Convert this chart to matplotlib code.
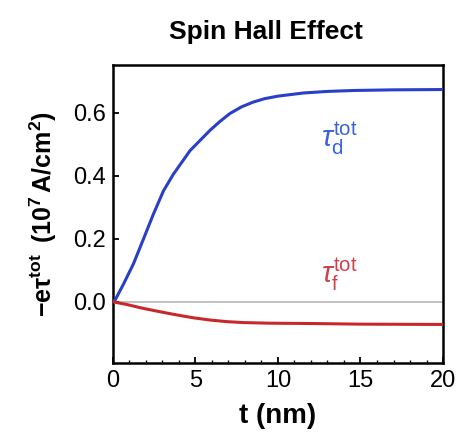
import matplotlib.pyplot as plt
import numpy as np

plt.rcParams["font.family"] = ["Liberation Sans", "DejaVu Sans"]
plt.rcParams["mathtext.fontset"] = "custom"
plt.rcParams["mathtext.rm"] = "Liberation Sans"
plt.rcParams["mathtext.it"] = "Liberation Sans:italic"
plt.rcParams["mathtext.bf"] = "Liberation Sans:bold"

# values
t_d = [0, 0.14, 0.64, 1.25, 1.85, 2.46, 3.07, 3.67, 4.68, 5.9, 6.5, 7.1,
       7.8, 8.5, 9.2, 10, 11.55, 13, 14.6, 17, 20]
tau_d = [0, 0.005, 0.055, 0.12, 0.198, 0.278, 0.352, 0.405, 0.48, 0.545, 0.573, 0.598,
         0.619, 0.634, 0.645, 0.653, 0.663, 0.668, 0.671, 0.673, 0.674]

t_f = [0, 0.8, 1.85, 2.9, 3.9, 4.9, 5.9, 6.9, 7.9, 9.5, 12, 15, 20]
tau_f = [0, -0.008, -0.021, -0.032, -0.042, -0.051, -0.058, -0.063, -0.066, -0.068,
         -0.069, -0.071, -0.072]

xticks = [0, 5, 10, 15, 20]
yticks = [0.0, 0.2, 0.4, 0.6]

fig = plt.figure(figsize=(4.62, 4.48), dpi=100)
ax = fig.add_axes([0.244, 0.190, 0.715, 0.665])

ax.axhline(0, color="#b8b8b8", lw=1.2, zorder=1)
ax.plot(t_d, tau_d, color="#2a3fc8", lw=2.2, zorder=3)
ax.plot(t_f, tau_f, color="#c8282c", lw=2.2, zorder=3)

ax.text(12.6, 0.49, r"$\tau_{\rm d}^{\rm tot}$", color="#3a62d8", fontsize=21)
ax.text(12.6, 0.06, r"$\tau_{\rm f}^{\rm tot}$", color="#d0404a", fontsize=21)

ax.set_xlim(0, 20)
ax.set_ylim(-0.194, 0.752)
ax.set_xticks(xticks)
ax.set_yticks(yticks)
ax.set_xticklabels([str(v) for v in xticks])
ax.set_yticklabels(["%.1f" % v for v in yticks])
ax.set_xticks(np.arange(0, 20.1, 1), minor=True)
ax.tick_params(axis="both", which="major", direction="in", length=4, width=1.3, labelsize=17, pad=5)
ax.tick_params(axis="x", which="minor", direction="in", length=2.5, width=1)
ax.tick_params(top=False, right=False)
for s in ax.spines.values():
    s.set_linewidth(1.8)

ax.set_xlabel("t (nm)", fontsize=20, fontweight="bold", labelpad=8)
ax.set_ylabel(r"$\mathbf{-e\tau^{tot}}\;\;\mathbf{(10^7\,A/cm^2)}$", fontsize=18, labelpad=10)
fig.text(0.575, 0.928, "Spin Hall Effect", ha="center", va="center", fontsize=19, fontweight="bold")

fig.savefig("out.png", dpi=100)
